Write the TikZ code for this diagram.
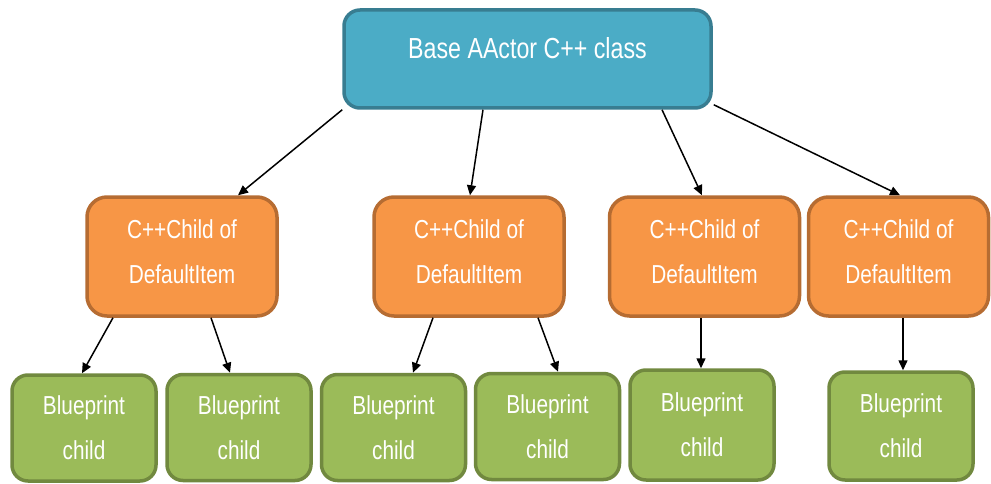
\documentclass[tikz,border=0pt]{standalone}
\usepackage{fontspec}
\usepackage{xcolor}
\usepackage{tikz}
\usetikzlibrary{arrows.meta, calc}
\newfontfamily\narrowsans[FakeStretch=0.8]{Liberation Sans}
\definecolor{rootblue}{RGB}{75, 172, 198}
\definecolor{rootedge}{RGB}{56, 125, 145}
\definecolor{childorange}{RGB}{247, 150, 70}
\definecolor{childedge}{RGB}{182, 108, 50}
\definecolor{leafgreen}{RGB}{155, 187, 89}
\definecolor{leafedge}{RGB}{113, 137, 63}

\begin{document}
\begin{tikzpicture}[
  x=1pt, y=-1pt,
  root/.style={draw=rootedge, fill=rootblue, line width=3.5pt, rounded corners=16pt, minimum width=367pt, minimum height=98pt, text=white, align=center, font={\narrowsans\fontsize{29}{34}\selectfont}, text depth=22pt},
  child/.style={draw=childedge, fill=childorange, line width=3.5pt, rounded corners=20pt, minimum width=190pt, minimum height=119pt, text=white, align=center, font={\narrowsans\fontsize{26}{45}\selectfont}, text depth=10pt},
  leaf/.style={draw=leafedge, fill=leafgreen, line width=3.5pt, rounded corners=16pt, minimum width=144pt, minimum height=106pt, text=white, align=center, font={\narrowsans\fontsize{26}{45}\selectfont}, text depth=0pt},
  arrow/.style={-{Triangle[length=10pt, width=9pt]}, line width=1.5pt, color=black}
]
  \useasboundingbox (0,0) rectangle (991,484);

  % Klasse
  \node[root] (base) at (527.5, 59) {Base AActor C++ class};

  % C++ Kinder
  \node[child] (c1) at (182, 256.5) {C++Child of\\DefaultItem};
  \node[child] (c2) at (469, 256.5) {C++Child of\\DefaultItem};
  \node[child] (c3) at (704.5, 256.5) {C++Child of\\DefaultItem};
  \node[child, minimum width=180pt] (c4) at (898.5, 256.5) {C++Child of\\DefaultItem};

  % Blueprints
  \node[leaf] (g1) at (84, 428) {Blueprint\\child};
  \node[leaf] (g2) at (239, 427.5) {Blueprint\\child};
  \node[leaf] (g3) at (393.5, 427.5) {Blueprint\\child};
  \node[leaf] (g4) at (547.5, 426.5) {Blueprint\\child};
  \node[leaf, minimum height=110pt] (g5) at (702, 425) {Blueprint\\child};
  \node[leaf, minimum height=108pt] (g6) at (901, 426) {Blueprint\\child};

  \draw[arrow] (base.south west) -- ([xshift=56pt]c1.north);
  \draw[arrow] ([xshift=-44.5pt]base.south) -- ([xshift=1pt]c2.north);
  \draw[arrow] ([xshift=134.5pt]base.south) -- ([xshift=-2.5pt]c3.north);
  \draw[arrow] ($(base.south east)+(1,-5)$) -- ([xshift=1.5pt]c4.north);

  \draw[arrow] ([xshift=-69pt]c1.south) -- ([xshift=-2pt]g1.north);
  \draw[arrow] ([xshift=29pt]c1.south) -- ([xshift=-9pt]g2.north);
  \draw[arrow] ([xshift=-36pt]c2.south) -- ([xshift=19.5pt]g3.north);
  \draw[arrow] ([xshift=69pt]c2.south) -- ([xshift=10.5pt]g4.north);
  \draw[arrow] ([xshift=-3.5pt]c3.south) -- ([xshift=-1pt]g5.north);
  \draw[arrow] ([xshift=4.5pt]c4.south) -- ([xshift=2pt]g6.north);

\end{tikzpicture}
\end{document}
